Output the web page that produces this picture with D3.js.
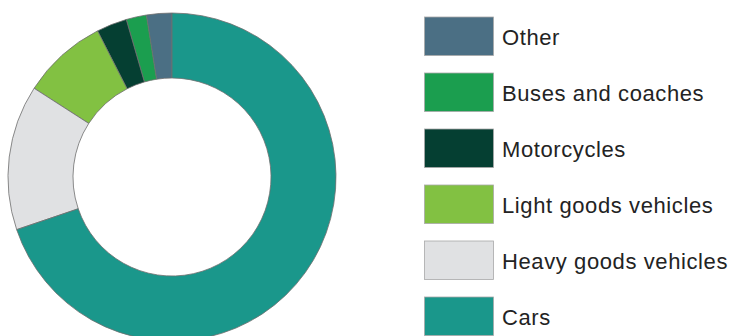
<!DOCTYPE html>
<html>
<head>
<meta charset="utf-8">
<script src="https://cdn.jsdelivr.net/npm/d3@7"></script>
<style>
  html, body { margin: 0; padding: 0; background: #fff; }
  svg { display: block; }
</style>
</head>
<body>
<svg id="chart" width="733" height="336"></svg>
<script>
// Share of road traffic by vehicle type (%)
const categories = ["Other", "Buses and coaches", "Motorcycles", "Light goods vehicles", "Heavy goods vehicles", "Cars"];
const shares = [2.5, 2.0, 3.0, 8.4, 14.3, 69.8];
const colours = ["#4b6f84", "#1b9e4f", "#053f32", "#82c142", "#e0e1e3", "#1a978b"];

const svg = d3.select("#chart");

const data = categories.map((c, i) => ({ name: c, value: shares[i], colour: colours[i] }));

// Ring: slices run anticlockwise from 12 o'clock in legend order
const pie = d3.pie().sort(null).value(d => d.value)
  .startAngle(0).endAngle(-2 * Math.PI);
const arc = d3.arc().innerRadius(99).outerRadius(164);

const ring = svg.append("g").attr("transform", "translate(172,177)");
ring.selectAll("path")
  .data(pie(data))
  .join("path")
  .attr("d", arc)
  .attr("fill", d => d.data.colour)
  .attr("stroke", "#6e6e6e")
  .attr("stroke-width", 0.8);

// Legend: 56px rows, 38.5px swatches
const y = d3.scaleBand().domain(categories)
  .range([17, 17 + 56 * categories.length - 17.5])
  .paddingInner(17.5 / 56).paddingOuter(0);
const legend = svg.append("g");
const rows = legend.selectAll("g").data(data).join("g")
  .attr("transform", d => `translate(424.5,${y(d.name)})`);
rows.append("rect")
  .attr("width", 69)
  .attr("height", y.bandwidth())
  .attr("fill", d => d.colour)
  .attr("stroke", "#a8a8a8")
  .attr("stroke-width", 0.8);
rows.append("text")
  .attr("x", 77.5)
  .attr("y", 28)
  .attr("font-family", "'Liberation Sans', Arial, Helvetica, sans-serif")
  .attr("font-size", 22)
  .attr("letter-spacing", 0.6)
  .attr("fill", "#232323")
  .text(d => d.name);
</script>
</body>
</html>
